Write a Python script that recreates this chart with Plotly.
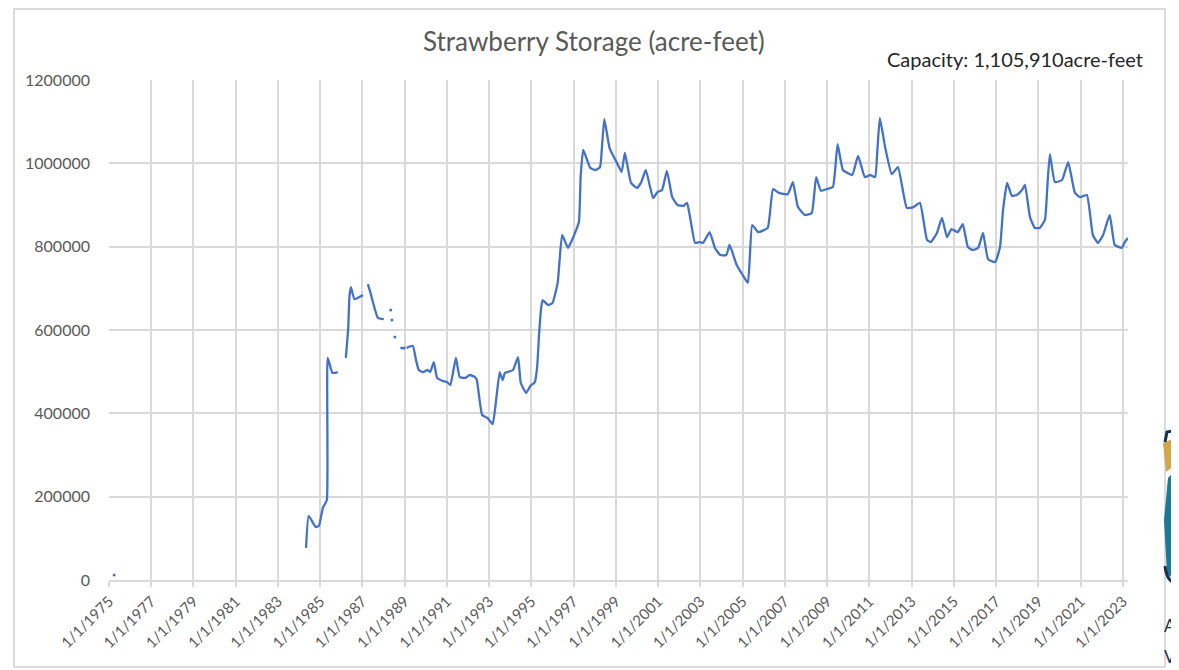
import plotly.graph_objects as go

# ---- data ----
dates = [
    "1984-05-01", "1984-06-15", "1984-10-15", "1984-12-10", "1985-02-15", "1985-04-25",
    "1985-05-10", "1985-08-01", "1985-11-01", None,
    "1986-03-20", "1986-05-01", "1986-05-20", "1986-06-15", "1986-08-15", "1987-01-10", None,
    "1987-04-05", "1987-05-20", "1987-09-25", "1988-01-05", None,
    "1989-02-01", "1989-05-20", "1989-07-15", "1989-09-01", "1989-11-15", "1990-02-01",
    "1990-03-15", "1990-05-20", "1990-07-15", "1990-10-15", "1991-01-01", "1991-03-01",
    "1991-06-05", "1991-08-10", "1991-11-15", "1992-02-01", "1992-05-01", "1992-06-01",
    "1992-09-01", "1992-12-01", "1993-03-01", "1993-05-01", "1993-07-01", "1993-08-20",
    "1993-10-01", "1994-02-15", "1994-05-15", "1994-07-01", "1994-10-01", "1994-12-15",
    "1995-03-01", "1995-04-10", "1995-05-15", "1995-06-20", "1995-07-15", "1995-10-15",
    "1996-01-01", "1996-04-01", "1996-06-15", "1996-09-25", "1996-12-25", "1997-04-01",
    "1997-05-01", "1997-06-15", "1997-10-15", "1998-01-15", "1998-04-01", "1998-05-10",
    "1998-06-15", "1998-09-15", "1999-01-20", "1999-04-10", "1999-06-05", "1999-09-20",
    "2000-01-01", "2000-03-15", "2000-06-01", "2000-10-05", "2000-12-20", "2001-03-10",
    "2001-06-01", "2001-09-01", "2001-12-01", "2002-03-15", "2002-05-15", "2002-07-15",
    "2002-10-01", "2002-12-20", "2003-02-15", "2003-06-10", "2003-09-10", "2003-12-10",
    "2004-03-25", "2004-05-20", "2004-09-20", "2005-01-01", "2005-04-01", "2005-06-15",
    "2005-09-25", "2006-03-10", "2006-06-10", "2006-09-20", "2007-02-20", "2007-05-20",
    "2007-08-15", "2007-12-15", "2008-04-10", "2008-06-25", "2008-09-15", "2008-12-20",
    "2009-04-10", "2009-07-01", "2009-10-01", "2010-03-10", "2010-06-20", "2010-10-15",
    "2011-01-15", "2011-04-10", "2011-05-20", "2011-07-01", "2011-10-01", "2012-01-25",
    "2012-05-10", "2012-10-10", "2013-02-01", "2013-05-25", "2013-09-25", "2013-12-01",
    "2014-03-15", "2014-06-10", "2014-09-05", "2014-11-20", "2015-03-10", "2015-06-05",
    "2015-09-01", "2015-11-20", "2016-02-25", "2016-05-20", "2016-08-15", "2016-12-15",
    "2017-03-10", "2017-05-01", "2017-07-10", "2017-10-01", "2017-12-25", "2018-03-25",
    "2018-05-15", "2018-08-10", "2018-11-01", "2019-01-25", "2019-04-25", "2019-06-10",
    "2019-07-20", "2019-10-15", "2020-02-15", "2020-06-01", "2020-09-25", "2020-12-25",
    "2021-04-20", "2021-08-01", "2021-10-30", "2022-01-25", "2022-05-20", "2022-08-15",
    "2022-12-15", "2023-02-05", "2023-04-01",
]
storage = [
    77000, 154000, 127000, 130000, 173000, 192000,
    533000, 497000, 499000, None,
    533000, 607000, 679000, 703000, 674000, 684000, None,
    710000, 689000, 629000, 626000, None,
    557000, 562000, 528000, 504000, 499000, 504000,
    499000, 523000, 485000, 478000, 475000, 468000,
    533000, 487000, 485000, 492000, 487000, 480000,
    396000, 389000, 374000, 432000, 499000, 480000,
    497000, 504000, 535000, 473000, 449000, 466000,
    475000, 511000, 593000, 655000, 672000, 660000,
    665000, 715000, 828000, 797000, 823000, 859000,
    967000, 1032000, 989000, 984000, 991000, 1049000,
    1106000, 1036000, 1001000, 979000, 1025000, 953000,
    941000, 955000, 984000, 917000, 931000, 936000,
    982000, 919000, 900000, 898000, 905000, 864000,
    809000, 811000, 809000, 835000, 797000, 780000,
    780000, 804000, 756000, 732000, 713000, 852000,
    835000, 845000, 938000, 929000, 926000, 955000,
    895000, 876000, 881000, 967000, 934000, 938000,
    943000, 1046000, 984000, 972000, 1018000, 967000,
    972000, 967000, 1032000, 1109000, 1039000, 974000,
    991000, 893000, 895000, 905000, 816000, 811000,
    833000, 869000, 823000, 842000, 835000, 854000,
    799000, 792000, 797000, 833000, 770000, 763000,
    799000, 888000, 953000, 922000, 924000, 936000,
    948000, 871000, 845000, 845000, 864000, 953000,
    1022000, 955000, 960000, 1003000, 929000, 919000,
    924000, 828000, 809000, 828000, 876000, 804000,
    797000, 811000, 821000,
]
# sparse (isolated) readings
dot_dates = ["1975-04-01", "1988-05-05", "1988-05-25", "1988-07-15", "1988-11-10", "1988-12-20"]
dot_values = [12000, 648000, 624000, 583000, 557000, 557000]

title_text = "Strawberry Storage (acre-feet)"
capacity_text = "Capacity: 1,105,910acre-feet"

BLUE = "#4472C4"
GRID = "#D9D9D9"
TXT = "#595959"
FONT = "Lato, Liberation Sans, sans-serif"

fig = go.Figure()
fig.add_trace(go.Scatter(x=dates, y=storage, mode="lines",
                         line=dict(color=BLUE, width=2.3, shape="spline", smoothing=0.4),
                         connectgaps=False, hoverinfo="x+y", showlegend=False))
fig.add_trace(go.Scatter(x=dot_dates, y=dot_values, mode="markers",
                         marker=dict(color=BLUE, size=3), showlegend=False))

# page is offset by the default 8px body margin
OFF = 8
W, H = 1179 - OFF, 670 - OFF
L, R, T, B = 109, 1128, 80, 580  # plot area in page pixels
pw, ph = R - L, B - T


def px(x):
    return (x - L) / pw


def py(y):
    return (B - y) / ph


shapes = [
    dict(type="rect", xref="paper", yref="paper", x0=px(14), x1=px(1165), y0=py(667), y1=py(9),
         line=dict(color="#D0D0D0", width=1.5), fillcolor="rgba(0,0,0,0)", layer="below"),
    # logo fragment at right edge
    dict(type="path", xref="paper", yref="paper",
         path=f"M {px(1163)},{py(443)} L {px(1179)},{py(436)} L {px(1179)},{py(462)} L {px(1166)},{py(472)} Z",
         fillcolor="#D4A64A", line=dict(width=0)),
    dict(type="path", xref="paper", yref="paper",
         path=f"M {px(1168)},{py(478)} L {px(1179)},{py(466)} L {px(1179)},{py(582)} L {px(1167)},{py(574)} L {px(1164)},{py(520)} Z",
         fillcolor="#1B7A97", line=dict(width=0)),
    dict(type="path", xref="paper", yref="paper",
         path=f"M {px(1179)},{py(430)} L {px(1167)},{py(432)} L {px(1165)},{py(442)}",
         line=dict(color="#16324F", width=3)),
    dict(type="path", xref="paper", yref="paper",
         path=f"M {px(1165)},{py(566)} Q {px(1167)},{py(584)} {px(1179)},{py(584)}",
         line=dict(color="#16324F", width=3)),
]

annotations = [
    dict(text=title_text, xref="paper", yref="paper", x=px(594), y=py(41),
         xanchor="center", yanchor="middle", showarrow=False,
         font=dict(family=FONT, size=26, color=TXT)),
    dict(text=capacity_text, xref="paper", yref="paper", x=px(1145), y=py(59),
         xanchor="right", yanchor="middle", showarrow=False,
         font=dict(family=FONT, size=20, color="#262626")),
    dict(text="A", xref="paper", yref="paper", x=px(1178), y=py(625),
         xanchor="right", yanchor="middle", showarrow=False,
         font=dict(family=FONT, size=17, color="#16324F")),
    dict(text="V", xref="paper", yref="paper", x=px(1178), y=py(656),
         xanchor="right", yanchor="middle", showarrow=False,
         font=dict(family=FONT, size=17, color="#16324F")),
]

fig.update_layout(
    width=W, height=H,
    margin=dict(l=L - OFF, r=W - (R - OFF), t=T - OFF, b=H - (B - OFF), pad=0),
    paper_bgcolor="white", plot_bgcolor="white",
    font=dict(family=FONT, color=TXT, size=14),
    shapes=shapes, annotations=annotations,
    showlegend=False,
)
fig.update_xaxes(
    type="date", range=["1975-01-01", "2023-04-01"],
    tick0="1975-01-01", dtick="M24", tickformat="1/1/%Y",
    tickangle=-45, showgrid=True, gridcolor=GRID, gridwidth=1.5,
    showline=True, linecolor=GRID, linewidth=1.5,
    ticks="outside", ticklen=5, tickcolor=GRID, tickwidth=1.5,
    tickfont=dict(family=FONT, size=15, color=TXT), zeroline=False,
)
fig.update_yaxes(
    range=[0, 1200000], dtick=200000, tickformat="d",
    showgrid=True, gridcolor=GRID, gridwidth=1.5, zeroline=False,
    ticks="", ticklabelstandoff=18,
    tickfont=dict(family=FONT, size=16, color=TXT),
)

fig.write_html("out.html")
